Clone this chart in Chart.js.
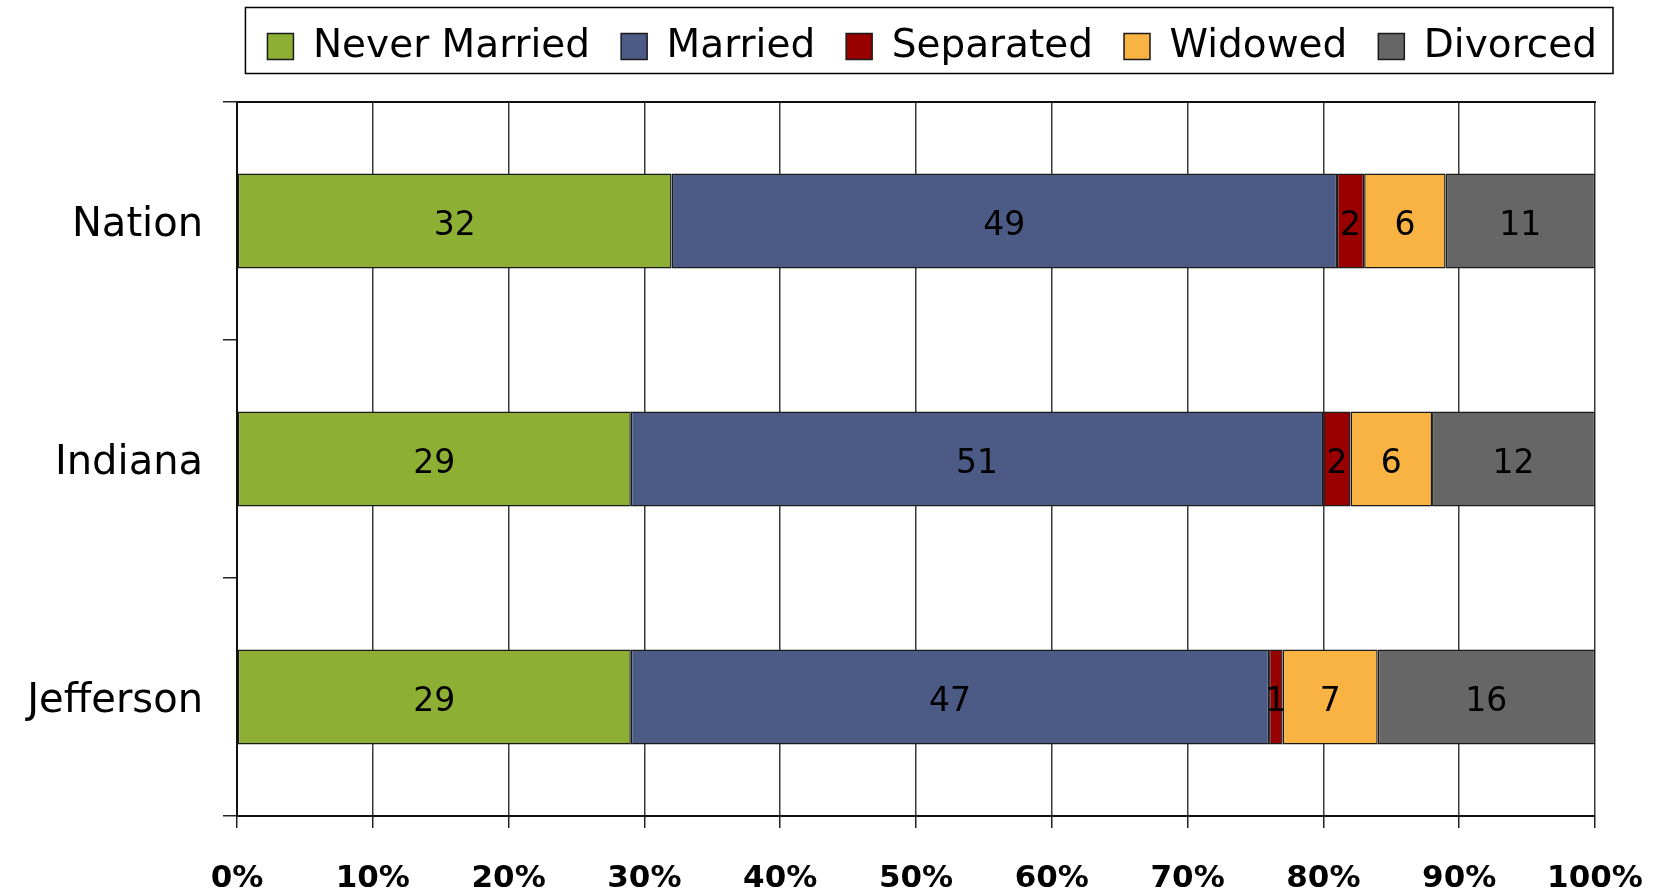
<!DOCTYPE html>
<html>
<head>
<meta charset="utf-8">
<script src="https://cdn.jsdelivr.net/npm/chart.js@4.4.1/dist/chart.umd.min.js"></script>
<style>
    html, body { margin: 0; padding: 0; background: #fff; }
    #wrap { width: 1657px; height: 895px; }
</style>
</head>
<body>
<div id="wrap"><canvas id="chart" width="1657" height="895"></canvas></div>
<script>
// Data
const places = ['Nation', 'Indiana', 'Jefferson'];
const neverMarried = [32, 29, 29];
const married = [49, 51, 47];
const separated = [2, 2, 1];
const widowed = [6, 6, 7];
const divorced = [11, 12, 16];
const xTicks = [0, 10, 20, 30, 40, 50, 60, 70, 80, 90, 100];

const FONT = "'DejaVu Sans', Verdana, sans-serif";

// numbers in the middle of each segment
const segmentLabels = {
    id: 'segmentLabels',
    afterDatasetsDraw(chart) {
        const ctx = chart.ctx;
        ctx.save();
        ctx.font = `33px ${FONT}`;
        ctx.fillStyle = '#000';
        ctx.textAlign = 'center';
        ctx.textBaseline = 'middle';
        chart.data.datasets.forEach((ds, i) => {
            chart.getDatasetMeta(i).data.forEach((bar, j) => {
                const p = bar.getCenterPoint();
                ctx.fillText(ds.data[j], p.x, p.y + 5);
            });
        });
        ctx.restore();
    }
};

// frame round the legend
const legendFrame = {
    id: 'legendFrame',
    afterDraw(chart) {
        const boxes = chart.legend.legendHitBoxes;
        if (!boxes || !boxes.length) return;
        const first = boxes[0];
        const last = boxes[boxes.length - 1];
        const ctx = chart.ctx;
        ctx.save();
        ctx.strokeStyle = '#000';
        ctx.lineWidth = 1.5;
        const left = first.left - 22;
        const right = last.left + last.width + 16;
        ctx.strokeRect(left, 7.5, right - left, 66);
        ctx.restore();
    }
};

new Chart(document.getElementById('chart'), {
    type: 'bar',
    data: {
        labels: places,
        datasets: [
            { label: 'Never Married', data: neverMarried, backgroundColor: '#8DB034' },
            { label: 'Married', data: married, backgroundColor: '#4B5B85' },
            { label: 'Separated', data: separated, backgroundColor: '#990000' },
            { label: 'Widowed', data: widowed, backgroundColor: '#F9B342' },
            { label: 'Divorced', data: divorced, backgroundColor: '#666666' }
        ].map(ds => ({
            ...ds,
            borderColor: '#1a1a1a',
            borderWidth: 1.5,
            borderSkipped: false,
            barPercentage: 0.8,
            categoryPercentage: 0.5
        }))
    },
    options: {
        indexAxis: 'y',
        responsive: false,
        animation: false,
        layout: { padding: { top: -4, right: 29, bottom: 0, left: 0 } },
        plugins: {
            legend: {
                position: 'top',
                align: 'end',
                labels: {
                    boxWidth: 26,
                    boxHeight: 26,
                    padding: 31,
                    color: '#000',
                    font: { family: FONT, size: 39 }
                }
            },
            tooltip: { enabled: false }
        },
        scales: {
            x: {
                stacked: true,
                min: 0,
                max: 100,
                afterBuildTicks: scale => { scale.ticks = xTicks.map(v => ({ value: v })); },
                afterFit: scale => {
                    scale.height = 79;
                    scale.paddingLeft = 0;
                    scale.paddingRight = 62;
                },
                ticks: {
                    padding: 32,
                    color: '#000',
                    font: { family: FONT, size: 31, weight: 'bold' },
                    callback: v => v + '%'
                },
                grid: {
                    color: '#3a3a3a',
                    lineWidth: 1.5,
                    tickLength: 12,
                    tickColor: '#222'
                },
                border: { display: true, color: '#111', width: 2 }
            },
            x2: {
                position: 'top',
                min: 0,
                max: 100,
                afterFit: scale => { scale.height = 26; },
                ticks: { display: false },
                grid: { display: false },
                border: { display: true, color: '#111', width: 2 }
            },
            y: {
                stacked: true,
                afterFit: scale => { scale.width = 237; },
                ticks: {
                    padding: 20,
                    labelOffset: 5,
                    color: '#000',
                    font: { family: FONT, size: 40 }
                },
                grid: {
                    offset: true,
                    drawOnChartArea: false,
                    tickLength: 14,
                    color: '#222',
                    lineWidth: 1.5
                },
                border: { display: true, color: '#111', width: 2 }
            }
        }
    },
    plugins: [segmentLabels, legendFrame]
});
</script>
</body>
</html>
